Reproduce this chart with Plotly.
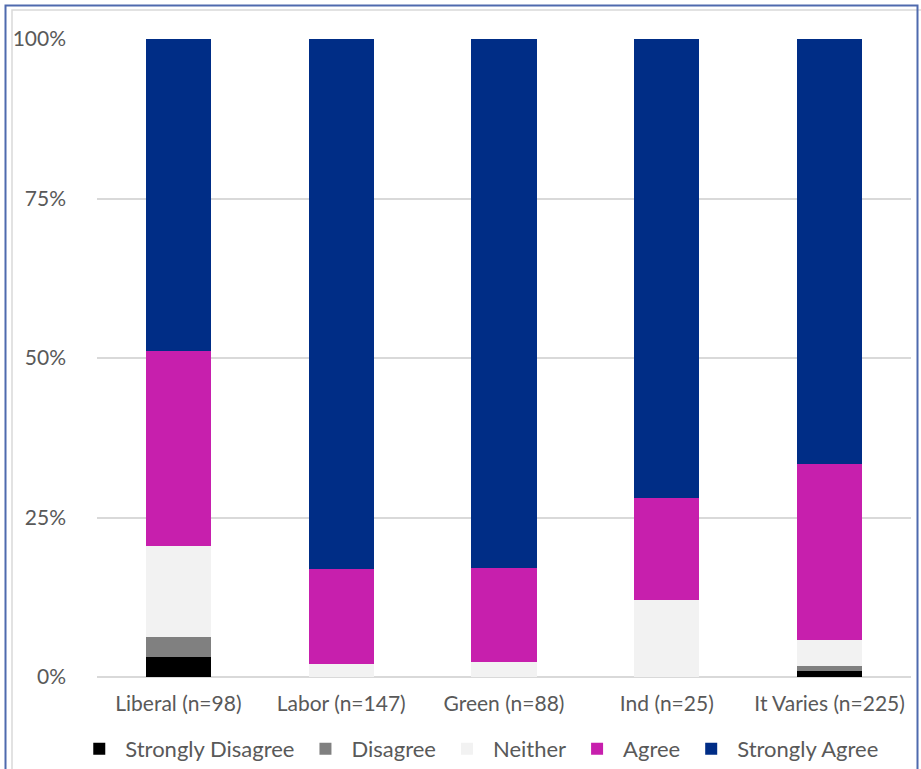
import plotly.graph_objects as go

categories = ["Liberal (n=98)", "Labor (n=147)", "Green (n=88)", "Ind (n=25)", "It Varies (n=225)"]
series_names = ["Strongly Disagree", "Disagree", "Neither", "Agree", "Strongly Agree"]
strongly_disagree = [3.1, 0.0, 0.0, 0.0, 0.9]
disagree = [3.1, 0.0, 0.0, 0.0, 0.9]
neither = [14.3, 2.0, 2.3, 12.0, 4.0]
agree = [30.6, 15.0, 14.8, 16.0, 27.6]
strongly_agree = [48.9, 83.0, 82.9, 72.0, 66.6]
colors = ["#000000", "#808080", "#F2F2F2", "#C71FAD", "#002D86"]

values = [strongly_disagree, disagree, neither, agree, strongly_agree]

FONT = "Lato, 'Open Sans', sans-serif"
TXT = "#595959"

fig = go.Figure()
for name, vals, col in zip(series_names, values, colors):
    fig.add_trace(go.Bar(
        x=categories, y=[v / 100 for v in vals], name=name,
        marker=dict(color=col, line=dict(width=0)),
        hovertemplate="%{x}<br>" + name + ": %{y:.1%}<extra></extra>",
    ))

W, H = 921, 769
L, R, T, B = 97, 10, 39, 92
pw, ph = W - L - R, H - T - B

def px(x):
    return (x - L) / pw

def py(y):
    return (H - B - y) / ph

fig.update_layout(
    width=W, height=H,
    barmode="stack", bargap=0.6,
    margin=dict(l=L, r=R, t=T, b=B, autoexpand=False),
    paper_bgcolor="white", plot_bgcolor="white",
    font=dict(family=FONT, size=21, color=TXT),
    showlegend=True,
    legend=dict(orientation="h", x=0.469, xanchor="center", y=py(749), yanchor="middle",
                font=dict(family=FONT, size=22, color=TXT), traceorder="normal",
                itemwidth=42),
    xaxis=dict(showgrid=False, showline=False, ticks="", automargin=False,
               ticklabelstandoff=12,
               tickfont=dict(family=FONT, size=21, color=TXT)),
    yaxis=dict(range=[0, 1], dtick=0.25, tickformat=".0%", showgrid=True, automargin=False,
               gridcolor="#D9D9D9", gridwidth=2, zeroline=True, zerolinecolor="#D9D9D9",
               zerolinewidth=2, showline=False, ticks="", ticklabelstandoff=30,
               tickfont=dict(family=FONT, size=21, color=TXT)),
    shapes=[
        dict(type="rect", xref="paper", yref="paper", x0=px(12), x1=px(930), y0=py(780), y1=py(10),
             line=dict(color="#D9D9D9", width=1.5), fillcolor="rgba(0,0,0,0)", layer="below"),
        dict(type="rect", xref="paper", yref="paper", x0=px(5.5), x1=px(917.5), y0=py(790), y1=py(5.5),
             line=dict(color="#4F6AAE", width=2), fillcolor="rgba(0,0,0,0)", layer="below"),
    ],
)

fig.write_html("out.html", config={"displayModeBar": False},
               post_script="document.body.style.margin='0';document.body.style.padding='0';")
